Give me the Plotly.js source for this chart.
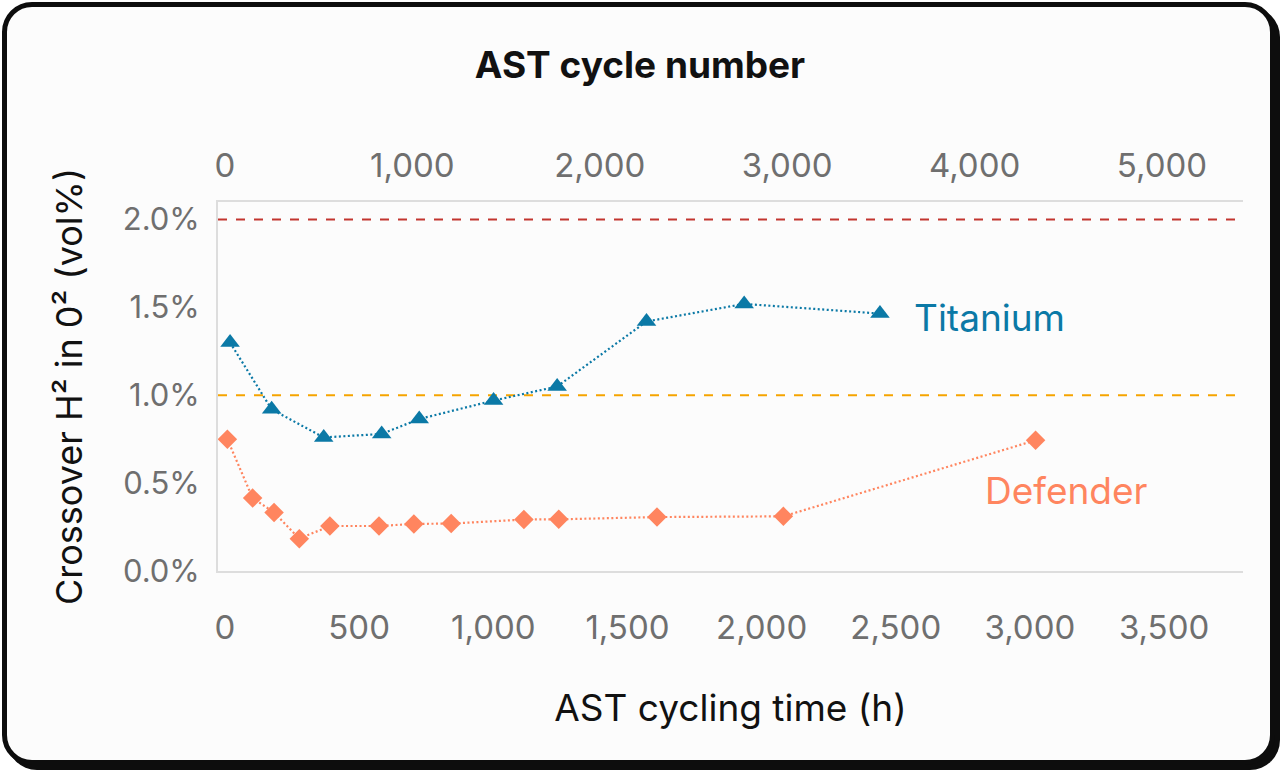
<!DOCTYPE html>
<html>
<head>
<meta charset="utf-8">
<script src="https://cdn.plot.ly/plotly-3.0.1.min.js"></script>
<style>
  html, body { margin: 0; padding: 0; background: #ffffff; }
  #wrap { position: relative; width: 1280px; height: 771px; }
  #frame {
    position: absolute; left: 2px; top: 2px; width: 1273px; height: 763px;
    box-sizing: border-box; border: 5px solid #0d0d0d; border-radius: 30px;
    box-shadow: 5px 5px 0 #0d0d0d; background: #fcfcfc;
  }
  #chart { position: absolute; left: 0; top: 0; width: 1280px; height: 771px; }
</style>
</head>
<body>
<div id="wrap">
  <div id="frame"></div>
  <div id="chart"></div>
</div>
<script>
// ── Data ─────────────────────────────────────────────────────────────
const titaniumHours = [19, 174, 368, 584, 724, 1001, 1238, 1571, 1935, 2441];
const titaniumCrossover = [1.30, 0.92, 0.76, 0.78, 0.865, 0.97, 1.05, 1.42, 1.52, 1.465];

const defenderHours = [9, 103, 183, 277, 391, 574, 704, 843, 1114, 1244, 1610, 2081, 3021];
const defenderCrossover = [0.75, 0.415, 0.333, 0.184, 0.256, 0.256, 0.268, 0.27, 0.293, 0.294, 0.307, 0.311, 0.744];

// Limit lines (vol%) and their colours
const limitValues = [2.0, 1.0];
const limitColors = ['#c2352f', '#f5a400'];

const hourTicks = [0, 500, 1000, 1500, 2000, 2500, 3000, 3500];
const cycleTicks = [0, 1000, 2000, 3000, 4000, 5000];
const percentTicks = [0, 0.5, 1.0, 1.5, 2.0];

const TITANIUM_COLOR = '#0b79a6';
const DEFENDER_COLOR = '#ff855f';
const FONT = 'Inter, "Noto Sans", sans-serif';
const TICK_GRAY = '#6f6f6f';
const EDGE_GRAY = '#dddddd';

// ── Traces ───────────────────────────────────────────────────────────
const titaniumTrace = {
    x: titaniumHours,
    y: titaniumCrossover,
    type: 'scatter',
    mode: 'lines+markers',
    name: 'Titanium',
    line: { color: TITANIUM_COLOR, width: 2.2, dash: '2px,2.5px' },
    marker: { symbol: 'triangle-up', size: 17, color: TITANIUM_COLOR },
    cliponaxis: false
};

const defenderTrace = {
    x: defenderHours,
    y: defenderCrossover,
    type: 'scatter',
    mode: 'lines+markers',
    name: 'Defender',
    line: { color: DEFENDER_COLOR, width: 2.2, dash: '2px,2.5px' },
    marker: { symbol: 'diamond', size: 15, color: DEFENDER_COLOR },
    cliponaxis: false
};

// empty trace so the overlaid cycle-number axis gets drawn
const cycleAxisTrace = {
    x: [], y: [],
    type: 'scatter',
    xaxis: 'x2', yaxis: 'y',
    showlegend: false,
    hoverinfo: 'skip'
};

const limitShapes = limitValues.map((v, i) => ({
    type: 'line',
    xref: 'paper', yref: 'y',
    x0: 0, x1: 1, y0: v, y1: v,
    line: { color: limitColors[i], width: 2, dash: 'dash' },
    layer: 'below'
}));

// ── Layout ───────────────────────────────────────────────────────────
const layout = {
    width: 1280,
    height: 771,
    margin: { l: 218, r: 37, t: 202, b: 200 },
    paper_bgcolor: 'rgba(0,0,0,0)',
    plot_bgcolor: 'rgba(0,0,0,0)',
    showlegend: false,
    font: { family: FONT, color: TICK_GRAY },
    title: {
        text: 'AST cycle number',
        xref: 'container', x: 0.5, xanchor: 'center',
        yref: 'container', y: 0.915, yanchor: 'middle',
        font: { family: FONT, size: 37, color: '#111111', weight: 700 }
    },
    xaxis: {
        range: [-26, 3794],
        tickmode: 'array',
        tickvals: hourTicks,
        tickformat: ',d',
        ticks: 'outside', ticklen: 26, tickcolor: 'rgba(0,0,0,0)',
        tickfont: { family: FONT, size: 33, color: TICK_GRAY },
        showgrid: false, zeroline: false,
        showline: true, linecolor: EDGE_GRAY, linewidth: 2,
        automargin: false,
        title: {
            text: 'AST cycling time (h)',
            standoff: 50,
            font: { family: FONT, size: 37, color: '#111111' }
        }
    },
    xaxis2: {
        overlaying: 'x',
        anchor: 'y',
        side: 'top',
        range: [-37, 5432],
        tickmode: 'array',
        tickvals: cycleTicks,
        tickformat: ',d',
        ticks: 'outside', ticklen: 10, tickcolor: 'rgba(0,0,0,0)',
        tickfont: { family: FONT, size: 33, color: TICK_GRAY },
        showgrid: false, zeroline: false,
        showline: true, linecolor: EDGE_GRAY, linewidth: 2,
        automargin: false
    },
    yaxis: {
        range: [0, 2.1],
        tickmode: 'array',
        tickvals: percentTicks,
        ticktext: percentTicks.map(v => v.toFixed(1) + '%'),
        ticks: 'outside', ticklen: 10, tickcolor: 'rgba(0,0,0,0)',
        tickfont: { family: FONT, size: 31, color: TICK_GRAY },
        showgrid: false, zeroline: false,
        showline: true, linecolor: EDGE_GRAY, linewidth: 2,
        automargin: false,
        title: {
            text: 'Crossover H² in 0² (vol%)',
            standoff: 29,
            font: { family: FONT, size: 36, color: '#111111' }
        }
    },
    shapes: limitShapes,
    annotations: [
        {
            text: 'Titanium',
            x: 2561, y: 1.444, xref: 'x', yref: 'y',
            xanchor: 'left', yanchor: 'middle',
            showarrow: false,
            font: { family: FONT, size: 37, color: TITANIUM_COLOR }
        },
        {
            text: 'Defender',
            x: 2825, y: 0.459, xref: 'x', yref: 'y',
            xanchor: 'left', yanchor: 'middle',
            showarrow: false,
            font: { family: FONT, size: 37, color: DEFENDER_COLOR }
        }
    ]
};

Plotly.newPlot('chart', [titaniumTrace, defenderTrace, cycleAxisTrace], layout, { staticPlot: true });
</script>
</body>
</html>
